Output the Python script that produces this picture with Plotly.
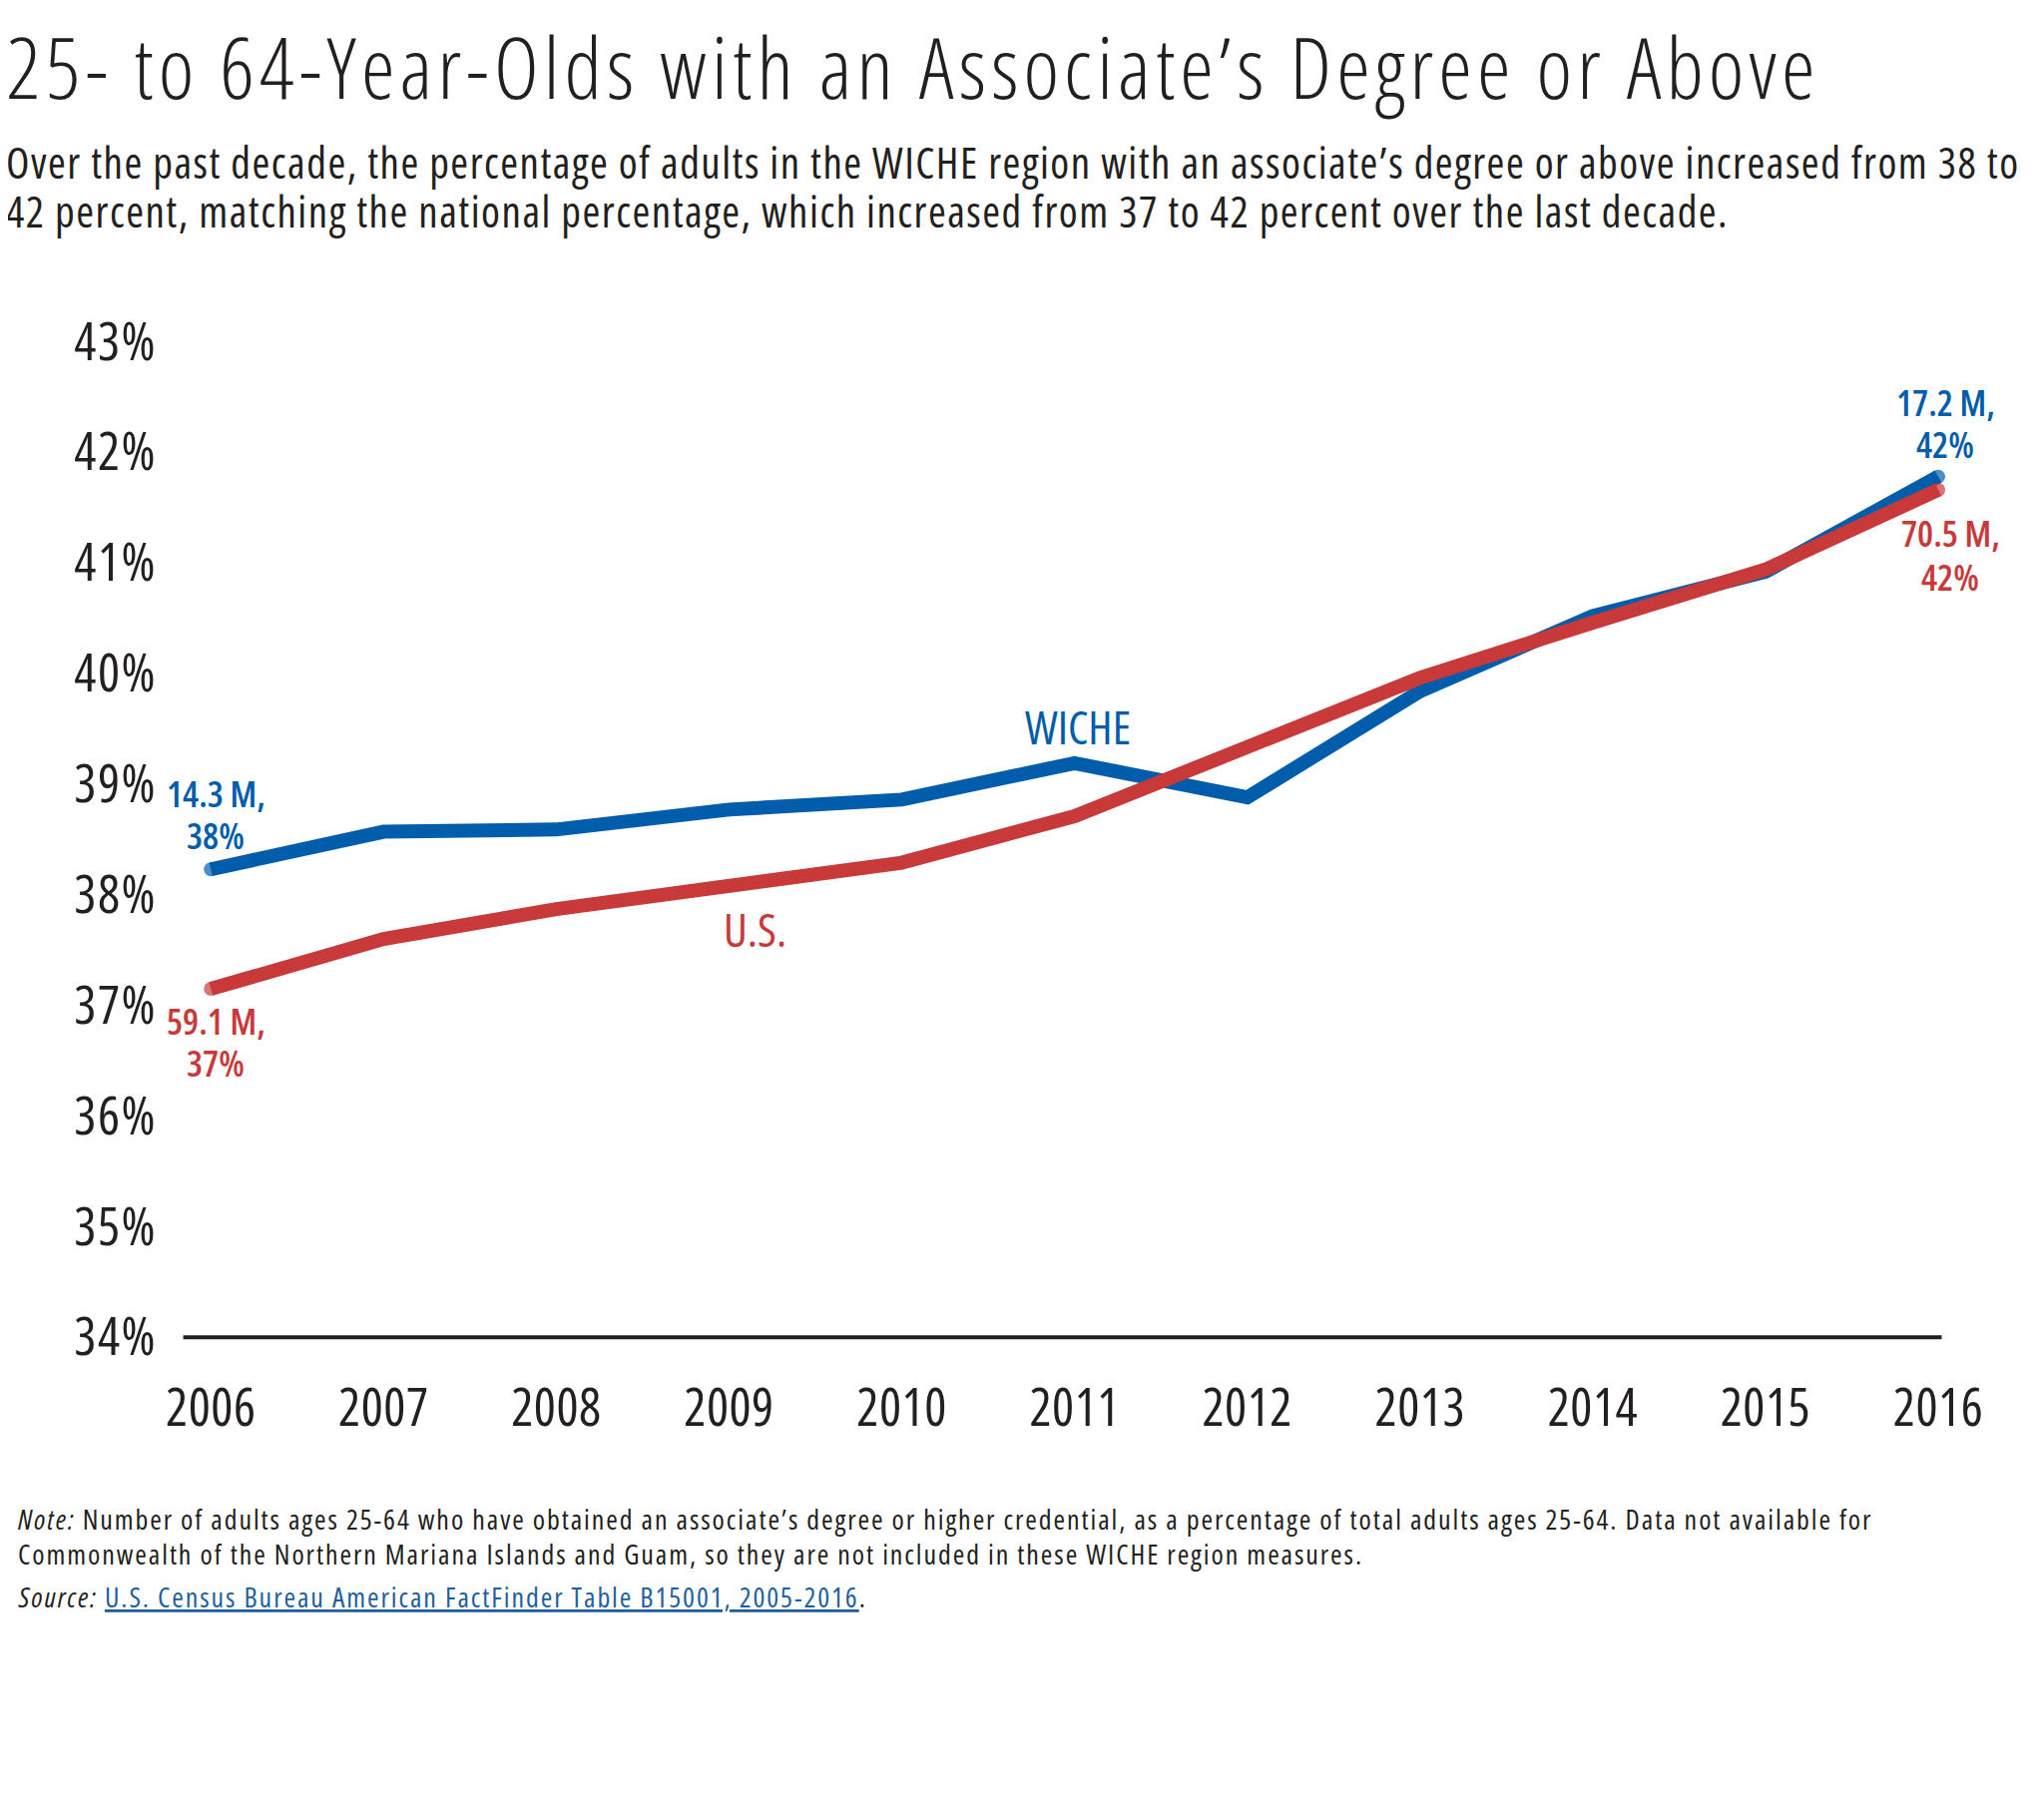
import plotly.graph_objects as go

# data
years = list(range(2006, 2017))
wiche_pct = [38.23, 38.57, 38.59, 38.77, 38.86, 39.19, 38.88, 39.84, 40.52, 40.92, 41.78]
us_pct = [37.15, 37.60, 37.87, 38.08, 38.29, 38.71, 39.35, 39.96, 40.46, 40.94, 41.66]
y_ticks = list(range(34, 44))
wiche_first = ["14.3 M,", "38%"]
wiche_last = ["17.2 M,", "42%"]
us_first = ["59.1 M,", "37%"]
us_last = ["70.5 M,", "42%"]

title = "25- to 64-Year-Olds with an Associate\u2019s Degree or Above"
subtitle = [
    "Over the past decade, the percentage of adults in the WICHE region with an associate\u2019s degree or above increased from 38 to",
    "42 percent, matching the national percentage, which increased from 37 to 42 percent over the last decade.",
]
note = [
    "<i>Note:</i> Number of adults ages 25-64 who have obtained an associate\u2019s degree or higher credential, as a percentage of total adults ages 25-64. Data not available for",
    "Commonwealth of the Northern Mariana Islands and Guam, so they are not included in these WICHE region measures.",
]
source_link = "U.S. Census Bureau American FactFinder Table B15001, 2005-2016"

FONT = "Open Sans"
BLUE = "#005dab"
RED = "#c8393a"
INK = "#231f20"

W, H = 2048, 1805
OFF = 8  # page body margin
ML, MR, MT, MB = 160, 88, 290, 445


def cond(s, ls=0):
    # condensed face of Open Sans, with optional letter spacing
    return f"<span style='font-stretch:75%;letter-spacing:{ls}px'>" + s + "</span>"


def px(x, y):
    # page pixel -> paper coordinates
    x, y = x - OFF, y - OFF
    return (x - ML) / (W - ML - MR), (H - MB - y) / (H - MT - MB)


fig = go.Figure()

n = len(years)
cap = [14 if i in (0, n - 1) else 0 for i in range(n)]
fig.add_trace(go.Scatter(
    x=years, y=wiche_pct, mode="lines+markers", name="WICHE",
    line=dict(color=BLUE, width=14),
    marker=dict(size=cap, color=BLUE, line=dict(width=0)),
))
fig.add_trace(go.Scatter(
    x=years, y=us_pct, mode="lines+markers", name="U.S.",
    line=dict(color=RED, width=14),
    marker=dict(size=cap, color=RED, line=dict(width=0)),
))

# baseline
fig.add_shape(type="line", x0=2005.84, x1=2016.02, y0=34, y1=34,
              xref="x", yref="y", line=dict(color=INK, width=4))

annots = []


def text(x, y, s, size, color=INK, xanchor="left", ls=0, weight=400):
    ax, ay = px(x, y)
    annots.append(dict(x=ax, y=ay, xref="paper", yref="paper", text=cond(s, ls),
                       showarrow=False, xanchor=xanchor, yanchor="middle",
                       font=dict(family=FONT, size=size, color=color, weight=weight)))


text(4, 66, title, 85, ls=5.1, weight=300)
text(4, 162, subtitle[0], 43, ls=1.5)
text(4, 212, subtitle[1], 43, ls=1.5)
text(16, 1522, note[0], 28, ls=1.9)
text(16, 1557, note[1], 28, ls=1.9)
text(16, 1600, "<i>Source:</i> <span style='color:#1f5f9f'><u>" + source_link + "</u></span>.", 28, ls=1.9)

# point labels
for lines, cx, ys, col in [
    (wiche_first, 216, (795, 837), BLUE),
    (us_first, 216, (1024, 1065), RED),
    (wiche_last, 1949, (404, 445), BLUE),
    (us_last, 1954, (534, 578), RED),
]:
    for s, yy in zip(lines, ys):
        text(cx, yy, s, 36, col, "center", weight=600)

text(1080, 728, "WICHE", 46, BLUE, "center")
text(756, 931, "U.S.", 46, RED, "center")

fig.update_layout(
    width=W, height=H,
    margin=dict(l=ML, r=MR, t=MT, b=MB),
    paper_bgcolor="white", plot_bgcolor="white",
    showlegend=False,
    font=dict(family=FONT, color=INK),
    annotations=annots,
    xaxis=dict(range=[2005.75, 2016.15], tickvals=years,
               ticktext=[cond(str(v), 0.5) for v in years], showgrid=False,
               zeroline=False, showline=False, ticks="",
               tickfont=dict(size=52, color=INK), ticklabelstandoff=8),
    yaxis=dict(range=[33.75, 43.4], tickvals=y_ticks,
               ticktext=[cond(f"{v}%", 1.5) for v in y_ticks], showgrid=False,
               zeroline=False, showline=False, ticks="",
               tickfont=dict(size=52, color=INK), ticklabelstandoff=10),
)

fig.write_html("out.html")
